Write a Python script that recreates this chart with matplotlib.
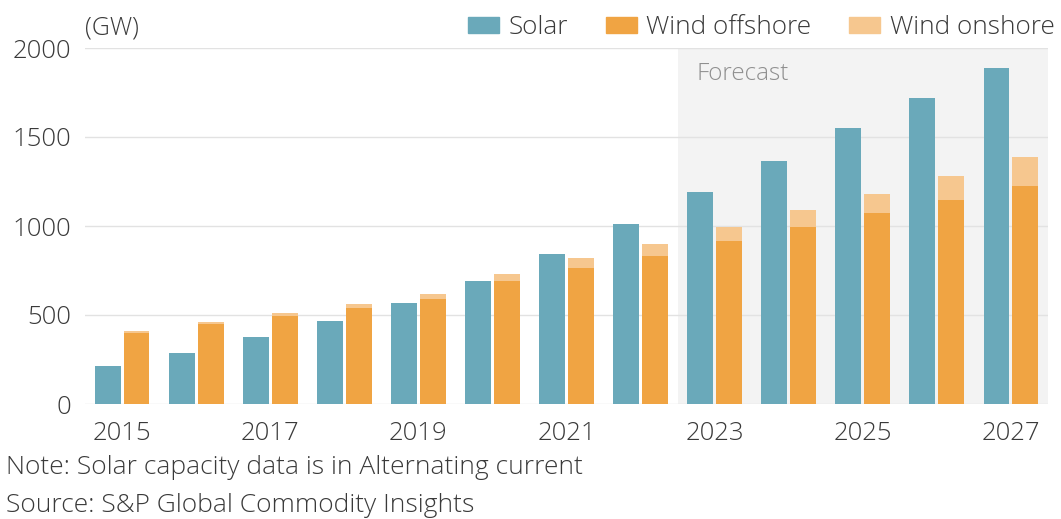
import matplotlib.pyplot as plt
import numpy as np
from matplotlib.patches import Patch

### Data (GW)
years = [2015, 2016, 2017, 2018, 2019, 2020, 2021, 2022, 2023, 2024, 2025, 2026, 2027]
solar = [213, 287, 376, 466, 567, 691, 843, 1011, 1190, 1365, 1550, 1719, 1888]
wind_offshore = [400, 450, 494, 539, 590, 691, 764, 831, 916, 994, 1073, 1146, 1225]
wind_onshore = [10, 11, 17, 23, 28, 39, 56, 68, 78, 96, 107, 135, 160]
year_labels = ['2015', '', '2017', '', '2019', '', '2021', '', '2023', '', '2025', '', '2027']
forecast_start = 2023

plt.rcParams['font.family'] = ['Open Sans', 'DejaVu Sans']
text_col = '#3a3a3a'
c_solar = '#6aa9ba'
c_off = '#f0a443'
c_on = '#f6c78f'

fig = plt.figure(figsize=(10.61, 5.19), dpi=100)
ax = fig.add_axes([85/1061, 1-404/519, (1048-85)/1061, (404-48)/519])

x = np.arange(len(years))
w = 0.35
off = 0.195

### Forecast shading
fc = years.index(forecast_start)
ax.axvspan(fc - 0.5, len(years) - 0.5, ymin=0, ymax=1, color='#f3f3f3', zorder=0, lw=0)
ax.text(fc - 0.24, 1854, 'Forecast', color='#8f8f8f', fontsize=17.5, va='center', ha='left', fontweight='light')

ax.bar(x - off, solar, width=w, color=c_solar, zorder=3)
ax.bar(x + off, wind_offshore, width=w, color=c_off, zorder=3)
ax.bar(x + off, wind_onshore, width=w, bottom=wind_offshore, color=c_on, zorder=3)

ax.set_xlim(-0.5, len(years) - 0.5)
ax.set_ylim(0, 2000)
ax.set_yticks([0, 500, 1000, 1500, 2000])
ax.set_xticks(x)
ax.set_xticklabels(year_labels)
ax.grid(axis='y', color='#e2e2e2', lw=1, zorder=1)
ax.set_axisbelow(True)
for s in ax.spines.values():
    s.set_visible(False)
ax.tick_params(axis='both', length=0, labelsize=18.5, colors=text_col)
ax.tick_params(axis='y', pad=10)
ax.tick_params(axis='x', pad=12)
for lab in ax.get_xticklabels() + ax.get_yticklabels():
    lab.set_fontweight('light')

fig.text(85/1061, 1-28/519, '(GW)', fontsize=18, color=text_col, va='center', ha='left', fontweight='light')

handles = [Patch(color=c_solar, label='Solar'),
           Patch(color=c_off, label='Wind offshore'),
           Patch(color=c_on, label='Wind onshore')]
fig.legend(handles=handles, loc='center right', bbox_to_anchor=(1078/1061, 1-28/519), ncol=3,
           frameon=False, prop={'size': 18.8, 'weight': 'light'}, handlelength=1.2, handleheight=0.55,
           handletextpad=0.35, columnspacing=1.45, labelcolor=text_col)

fig.text(6/1061, 1-468/519, 'Note: Solar capacity data is in Alternating current', fontsize=19, color=text_col, va='center', fontweight='light')
fig.text(6/1061, 1-505/519, 'Source: S&P Global Commodity Insights', fontsize=19, color=text_col, va='center', fontweight='light')

plt.savefig('out.png', dpi=100)
